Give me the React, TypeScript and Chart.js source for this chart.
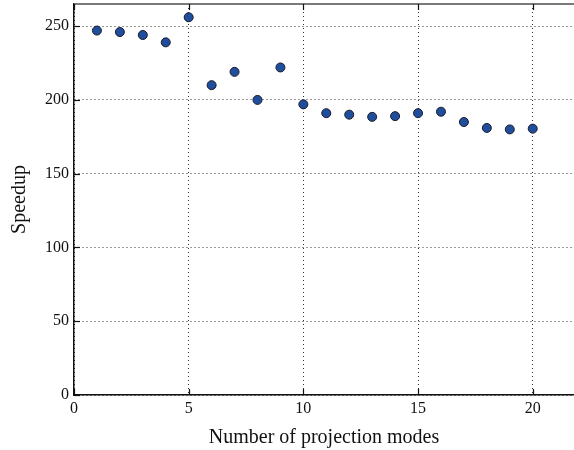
import React, { useEffect, useRef } from "react";
import { Chart, registerables } from "chart.js";

Chart.register(...registerables);

const modes = [1, 2, 3, 4, 5, 6, 7, 8, 9, 10, 11, 12, 13, 14, 15, 16, 17, 18, 19, 20];
const speedup = [247, 246, 244, 239, 256, 210, 219, 200, 222, 197, 191, 190, 188.5, 189, 191, 192, 185, 181, 180, 180.5];
const xTicks = [0, 5, 10, 15, 20];
const yTicks = [0, 50, 100, 150, 200, 250];

const FONT = "'Liberation Serif', 'DejaVu Serif', serif";

const framePlugin = {
  id: "frame",
  afterDatasetsDraw(chart: any) {
    const { ctx, chartArea, scales } = chart;
    const { left, right, top, bottom } = chartArea;
    ctx.save();
    ctx.strokeStyle = "#7a7a7a";
    ctx.lineWidth = 2;
    ctx.beginPath();
    ctx.moveTo(left, top);
    ctx.lineTo(right, top);
    ctx.stroke();
    ctx.strokeStyle = "#111";
    ctx.lineWidth = 1.2;
    const tl = 6;
    xTicks.forEach((v) => {
      const x = Math.round(scales.x.getPixelForValue(v)) + 0.5;
      ctx.beginPath();
      ctx.moveTo(x, top);
      ctx.lineTo(x, top + tl);
      ctx.moveTo(x, bottom);
      ctx.lineTo(x, bottom - tl);
      ctx.stroke();
    });
    yTicks.forEach((v) => {
      const y = Math.round(scales.y.getPixelForValue(v)) + 0.5;
      ctx.beginPath();
      ctx.moveTo(left, y);
      ctx.lineTo(left + tl, y);
      ctx.stroke();
    });
    ctx.restore();
  },
};

export default function App() {
  const ref = useRef<HTMLCanvasElement>(null);
  useEffect(() => {
    const canvas = ref.current!;
    const chart = new Chart(canvas, {
      type: "scatter",
      data: {
        datasets: [
          {
            data: modes.map((m, i) => ({ x: m, y: speedup[i] })),
            backgroundColor: "#1f4e9c",
            borderColor: "#1a1a2a",
            borderWidth: 1,
            pointRadius: 4.5,
          },
        ],
      },
      options: {
        animation: false,
        responsive: false,
        maintainAspectRatio: false,
        layout: { autoPadding: false, padding: { top: 4, right: 0, bottom: 0, left: 0 } },
        plugins: { legend: { display: false }, tooltip: { enabled: false } },
        scales: {
          x: {
            type: "linear",
            min: 0,
            max: 21.8,
            afterBuildTicks: (s: any) => {
              s.ticks = xTicks.map((v) => ({ value: v }));
            },
            afterFit: (s: any) => {
              s.height = 55;
              s.paddingLeft = 0;
              s.paddingRight = 0;
            },
            ticks: {
              color: "#111",
              font: { family: FONT, size: 16 },
              padding: 4,
              maxRotation: 0,
            },
            grid: {
              color: "#333",
              lineWidth: 1,
              drawTicks: false,
              tickLength: 0,
            },
            border: { display: true, color: "#111", width: 1.5, dash: [1, 3] },
            title: {
              display: true,
              text: "Number of projection modes",
              color: "#111",
              font: { family: FONT, size: 20 },
              padding: { top: 4, bottom: 0 },
            },
          },
          y: {
            type: "linear",
            min: 0,
            max: 265,
            afterBuildTicks: (s: any) => {
              s.ticks = yTicks.map((v) => ({ value: v }));
            },
            afterFit: (s: any) => {
              s.width = 74;
              s.paddingTop = 0;
              s.paddingBottom = 0;
            },
            ticks: {
              color: "#111",
              font: { family: FONT, size: 16 },
              padding: 5,
            },
            grid: {
              color: "#333",
              lineWidth: 1,
              drawTicks: false,
              tickLength: 0,
            },
            border: { display: true, color: "#111", width: 1.5, dash: [1, 3] },
            title: {
              display: true,
              text: "Speedup",
              color: "#111",
              font: { family: FONT, size: 20 },
              padding: { top: 8, bottom: 4 },
            },
          },
        },
      },
      plugins: [framePlugin],
    } as any);
    return () => chart.destroy();
  }, []);
  return (
    <div style={{ position: "fixed", left: 0, top: 0, width: 574, height: 450, background: "#fff" }}>
      <canvas ref={ref} width={574} height={450} style={{ width: 574, height: 450, display: "block" }} />
    </div>
  );
}
